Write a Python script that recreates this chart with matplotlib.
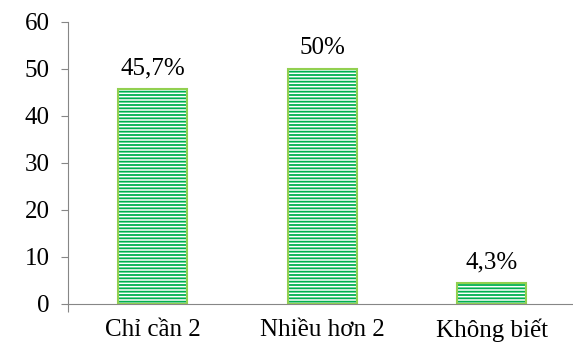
import matplotlib
matplotlib.use("Agg")
import matplotlib.pyplot as plt

categories = ['Chỉ cần 2', 'Nhiều hơn 2', 'Không biết']
values = [45.7, 50, 4.3]
value_labels = ['45,7%', '50%', '4,3%']
y_ticks = [0, 10, 20, 30, 40, 50, 60]

plt.rcParams['font.family'] = ['Liberation Serif', 'DejaVu Serif']
plt.rcParams['hatch.linewidth'] = 1.3

fig = plt.figure(figsize=(5.73, 3.51), dpi=100)
ax = fig.add_axes([68 / 573, 1 - 303.5 / 351, 508.5 / 573, (303.5 - 22) / 351])

x = list(range(len(categories)))
# hatch lines take the edge colour, so draw the fill and the outline apart
ax.bar(x, values, width=0.41, color='white', edgecolor='#00B050',
       linewidth=0, hatch='-----')
bars = ax.bar(x, values, width=0.41, fill=False, edgecolor='#92D050',
              linewidth=1.5)

for b, lab in zip(bars, value_labels):
    ax.annotate(lab, (b.get_x() + b.get_width() / 2, b.get_height()),
                xytext=(0, 7), textcoords='offset points',
                ha='center', va='bottom', fontsize=18)

ax.set_xlim(-0.5, len(categories) - 0.5)
ax.set_ylim(0, 60)
ax.set_yticks(y_ticks)
ax.set_xticks(x)
ax.set_xticklabels(categories)
ax.tick_params(axis='x', length=0, pad=11, labelsize=18)
ax.tick_params(axis='y', length=5, width=0.8, color='#868686', pad=8, labelsize=18)
ax.set_xticks([-0.5], minor=True)
ax.tick_params(axis='x', which='minor', length=6, width=0.8, color='#868686')

for s in ['top', 'right']:
    ax.spines[s].set_visible(False)
for s in ['left', 'bottom']:
    ax.spines[s].set_color('#868686')
    ax.spines[s].set_linewidth(0.8)

fig.savefig('out.png', dpi=100)
